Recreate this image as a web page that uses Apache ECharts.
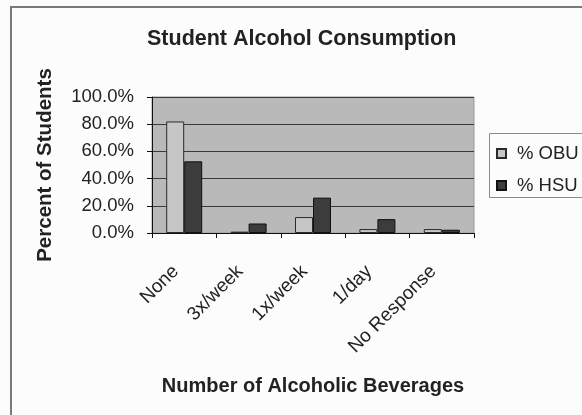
<!DOCTYPE html>
<html>
<head>
<meta charset="utf-8">
<script src="https://cdn.jsdelivr.net/npm/echarts@6/dist/echarts.min.js"></script>
<style>
  html, body { margin: 0; padding: 0; background: #fcfcfc; }
  #chart { width: 582px; height: 415px; }
</style>
</head>
<body>
<div id="chart"></div>
<script>
// Drinking frequency categories
const categories = ['None', '3x/week', '1x/week', '1/day', 'No Response'];
// Share of students in each category
const obuShare = [0.82, 0.01, 0.117, 0.029, 0.029];
const hsuShare = [0.527, 0.07, 0.26, 0.102, 0.024];
// Value axis ticks
const yTicks = [0, 0.2, 0.4, 0.6, 0.8, 1.0];

const FONT = 'Liberation Sans, Arial, sans-serif';
const chart = echarts.init(document.getElementById('chart'), null, { renderer: 'canvas' });

chart.setOption({
  backgroundColor: '#fcfcfc',
  animation: false,
  title: {
    text: 'Student Alcohol Consumption',
    left: 142,
    top: 23,
    textStyle: { fontFamily: FONT, fontSize: 21.5, fontWeight: 'bold', color: '#222' }
  },
  legend: {
    orient: 'vertical',
    left: 491,
    top: 139,
    itemWidth: 9,
    itemHeight: 9,
    itemGap: 13,
    icon: 'rect',
    textStyle: { fontFamily: FONT, fontSize: 18.5, color: '#222', padding: [0, 0, 0, 6] },
    data: ['% OBU', '% HSU']
  },
  graphic: [
    {
      type: 'rect',
      shape: { x: 11, y: 7, width: 600, height: 420 },
      style: { fill: 'none', stroke: '#7a7a7a', lineWidth: 2 },
      silent: true
    },
    {
      type: 'rect',
      shape: { x: 489.5, y: 133.5, width: 120, height: 64 },
      style: { fill: 'none', stroke: '#8a8a8a', lineWidth: 1 },
      silent: true
    }
  ],
  grid: {
    left: 152,
    top: 97,
    width: 322,
    height: 136,
    show: true,
    backgroundColor: '#b9b9b9',
    borderColor: '#9a9a9a',
    borderWidth: 1
  },
  xAxis: {
    type: 'category',
    data: categories,
    name: 'Number of Alcoholic Beverages',
    nameLocation: 'middle',
    nameGap: 143,
    nameTextStyle: { fontFamily: FONT, fontSize: 20, fontWeight: 'bold', color: '#222' },
    axisLine: { lineStyle: { color: '#111', width: 1 } },
    axisTick: { show: true, length: 5, lineStyle: { color: '#111' } },
    axisLabel: {
      rotate: 45,
      margin: 27,
      padding: [0, 12, 0, 0],
      fontFamily: FONT,
      fontSize: 19,
      color: '#222',
      interval: 0
    }
  },
  yAxis: {
    type: 'value',
    min: 0,
    max: 1,
    interval: 0.2,
    name: 'Percent of Students',
    nameLocation: 'middle',
    nameRotate: 90,
    nameGap: 96,
    nameTextStyle: { fontFamily: FONT, fontSize: 20.5, fontWeight: 'bold', color: '#222' },
    axisLine: { show: true, lineStyle: { color: '#111', width: 1 } },
    axisTick: { show: true, length: 5, lineStyle: { color: '#111' } },
    splitLine: { show: true, lineStyle: { color: '#3a3a3a', width: 1 } },
    axisLabel: {
      margin: 18,
      fontFamily: FONT,
      fontSize: 18.5,
      color: '#222',
      formatter: function (v) {
        return yTicks.indexOf(Math.round(v * 10) / 10) >= 0 ? (v * 100).toFixed(1) + '%' : '';
      }
    }
  },
  series: [
    {
      name: '% OBU',
      type: 'bar',
      data: obuShare,
      barWidth: 18,
      barGap: '0%',
      itemStyle: { color: '#c6c6c6', borderColor: '#2a2a2a', borderWidth: 1 }
    },
    {
      name: '% HSU',
      type: 'bar',
      data: hsuShare,
      barWidth: 18,
      itemStyle: { color: '#3c3c3c', borderColor: '#111', borderWidth: 1 }
    }
  ]
});
</script>
</body>
</html>
